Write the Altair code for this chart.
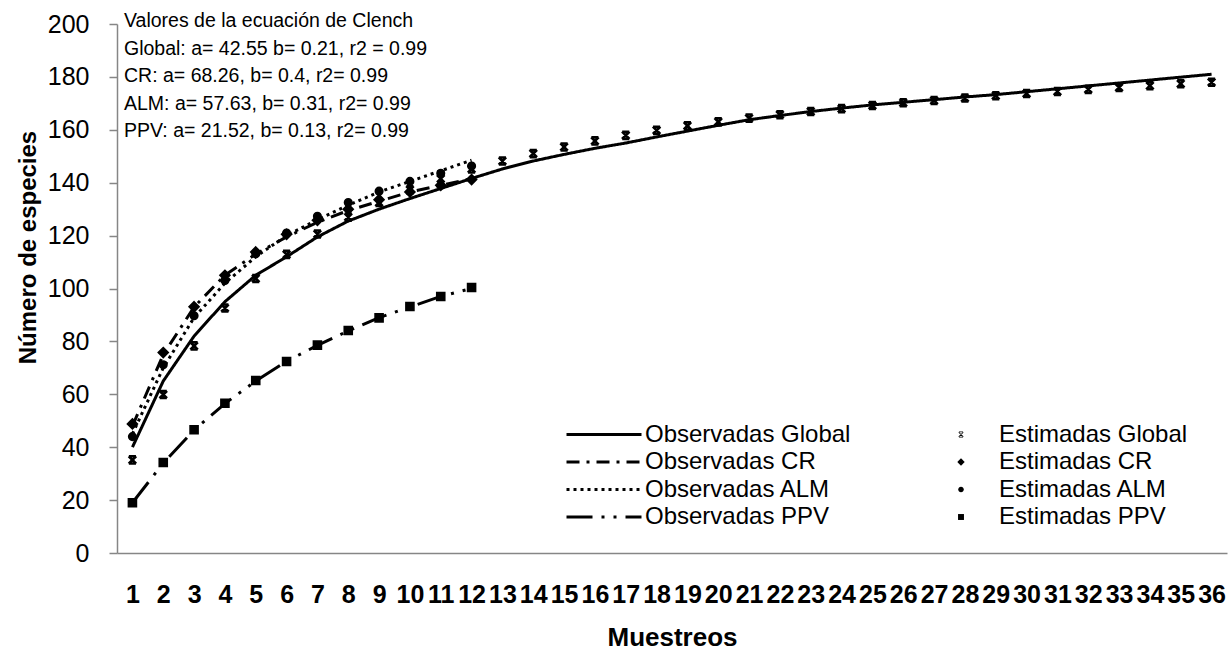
import altair as alt
import pandas as pd

# Sampling events (x axis categories)
muestreos = list(range(1, 37))

# Observed species accumulation (lines)
obs_global = [40, 65, 82, 95, 105, 112, 119.5, 125.5, 130, 134, 137.8, 141.6,
              145.2, 148.2, 150.7, 153, 155, 157.3, 159.5, 161.7, 163.8, 165.4,
              166.9, 168.2, 169.4, 170.4, 171.4, 172.4, 173.3, 174.4, 175.5,
              176.6, 177.7, 178.8, 179.9, 181]
obs_cr = [48, 75, 93, 105, 113, 119.5, 125, 129.5, 133, 136.5, 139, 141.5]
obs_alm = [45, 70, 89, 102, 112, 120, 126, 131.5, 136.5, 140.5, 144.5, 148.5]
obs_ppv = [19, 34, 46.5, 56.5, 65, 72.5, 78.5, 84, 89, 93, 97, 100]

# Species estimated with the Clench model (points)
est_global = [35.2, 59.9, 78.3, 92.6, 103.8, 112.9, 120.6, 127.0, 132.5, 137.3,
              141.5, 145.2, 148.2, 151, 153.5, 155.8, 157.9, 159.8, 161.5, 163,
              164.4, 165.7, 166.9, 168, 169.2, 170.2, 171.1, 172, 172.9, 173.7,
              174.5, 175.3, 176, 176.7, 177.4, 178]
est_cr = [48.8, 75.8, 93.1, 105.0, 113.8, 120.5, 125.8, 130.0, 133.6, 136.5, 139.0, 141.2]
est_alm = [44.0, 71.2, 89.7, 103.0, 113.1, 121.0, 127.3, 132.5, 136.8, 140.5, 143.6, 146.3]
est_ppv = [19.0, 34.2, 46.6, 56.6, 65.2, 72.4, 78.6, 84.1, 88.9, 93.2, 97.0, 100.4]

obs_names = ["Observadas Global", "Observadas CR", "Observadas ALM", "Observadas PPV"]
est_names = ["Estimadas Global", "Estimadas CR", "Estimadas ALM", "Estimadas PPV"]

clench_text = [
    "Valores de la ecuación de Clench",
    "Global: a= 42.55 b= 0.21, r2 = 0.99",
    "CR: a= 68.26, b= 0.4, r2= 0.99",
    "ALM: a= 57.63, b= 0.31, r2= 0.99",
    "PPV: a= 21.52, b= 0.13, r2= 0.99",
]

y_ticks = list(range(0, 201, 20))

FONT = "Liberation Sans"
GREY = "#868686"


def to_long(names, series):
    rows = []
    for name, vals in zip(names, series):
        for m, v in zip(muestreos, vals):
            rows.append({"muestreo": m, "especies": v, "serie": name})
    return pd.DataFrame(rows)


obs_df = to_long(obs_names, [obs_global, obs_cr, obs_alm, obs_ppv])
est_df = to_long(est_names, [est_global, est_cr, est_alm, est_ppv])

dashes = [[1, 0], [13, 7, 3, 7], [3, 4], [26, 9, 3, 9, 3, 9]]

# filled marker outlines: star-like cross with bars, diamond, circle, square
star = (
    "M-0.55,-0.7L0.7,0.55L0.55,0.7L-0.7,-0.55Z"
    "M0.7,-0.55L-0.55,0.7L-0.7,0.55L0.55,-0.7Z"
    "M-0.55,-0.8H0.55V-0.62H-0.55Z"
    "M-0.55,0.62H0.55V0.8H-0.55Z"
)
shapes = [
    star,
    "M0,-1.0L1.0,0L0,1.0L-1.0,0Z",
    "M0.75,0A0.75,0.75,0,1,1,-0.75,0A0.75,0.75,0,1,1,0.75,0Z",
    "M-0.8,-0.8H0.8V0.8H-0.8Z",
]

x_enc = alt.X(
    "muestreo:O",
    title="Muestreos",
    scale=alt.Scale(domain=muestreos),
    axis=alt.Axis(
        labelAngle=0, labelFontWeight="bold", labelFontSize=25, ticks=False,
        tickSize=0, labelPadding=29, labelOverlap=False, labelBound=False,
        titleFontSize=26, titleFontWeight="bold", titlePadding=17,
    ),
)
y_enc = alt.Y(
    "especies:Q",
    title="Número de especies",
    scale=alt.Scale(domain=[0, 200], nice=False),
    axis=alt.Axis(
        values=y_ticks, tickSize=8, labelFontSize=25, labelPadding=20,
        titleFontSize=24, titleFontWeight="bold", titleX=-89, titleY=223,
        titleBaseline="middle", titleAlign="center",
    ),
)

lines = alt.Chart(obs_df).mark_line(color="black", strokeWidth=3).encode(
    x=x_enc,
    y=y_enc,
    strokeDash=alt.StrokeDash(
        "serie:N",
        scale=alt.Scale(domain=obs_names, range=dashes),
        sort=obs_names,
        legend=alt.Legend(
            title=None, orient="none", legendX=475, legendY=398.5, padding=0,
            symbolType="M-7.5,0H7.5", symbolSize=100, symbolStrokeWidth=3,
            symbolStrokeColor="black", labelOffset=29, labelFontSize=24,
            labelFont=FONT, rowPadding=3.5, labelLimit=400,
        ),
    ),
)

points = alt.Chart(est_df).mark_point(
    filled=True, color="black", stroke="black", strokeWidth=1.6,
    size=100, opacity=1,
).encode(
    x="muestreo:O",
    y="especies:Q",
    shape=alt.Shape(
        "serie:N",
        scale=alt.Scale(domain=est_names, range=shapes),
        sort=est_names,
        legend=alt.Legend(
            title=None, orient="none", legendX=832, legendY=398.5, padding=0,
            symbolSize=55, symbolFillColor="black", symbolStrokeColor="black",
            symbolStrokeWidth=1.6, symbolOpacity=1, labelOffset=26,
            labelFontSize=24, labelFont=FONT, rowPadding=3.5, labelLimit=400,
        ),
    ),
)

note = alt.Chart(pd.DataFrame({"t": [0]})).mark_text(
    align="left", baseline="top", fontSize=19.5, lineHeight=27.5, font=FONT,
    color="black",
).encode(x=alt.value(7), y=alt.value(-12), text=alt.value(clench_text))

chart = (
    alt.layer(lines, points, note)
    .resolve_scale(strokeDash="independent", shape="independent")
    .properties(
        width=1110, height=529,
        autosize=alt.AutoSizeParams(type="none"),
        padding={"left": 117, "top": 24, "right": 2, "bottom": 97},
    )
    .configure_view(stroke=None)
    .configure_axis(
        grid=False, domainColor=GREY, tickColor=GREY, domainWidth=1.5,
        tickWidth=1.5, labelColor="black", titleColor="black",
        labelFont=FONT, titleFont=FONT,
    )
    .configure_legend(labelColor="black")
)

chart.save("out.html", embed_options={"renderer": "svg", "actions": False})
